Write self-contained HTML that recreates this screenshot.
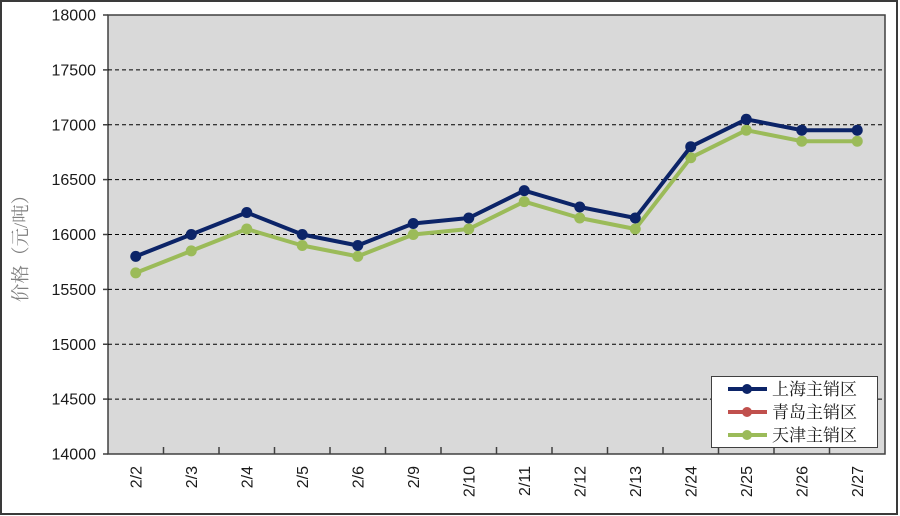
<!DOCTYPE html>
<html><head><meta charset="utf-8"><style>
html,body{margin:0;padding:0;background:#fff;}
svg{display:block;}
</style></head><body>
<svg width="900" height="516" viewBox="0 0 900 516" xmlns="http://www.w3.org/2000/svg">
<rect x="0" y="0" width="900" height="516" fill="#fff"/>
<rect x="1" y="1" width="896" height="513" fill="none" stroke="#3a3a3a" stroke-width="2"/>
<rect x="108" y="15" width="777" height="439" fill="#d9d9d9" stroke="#404040" stroke-width="1.5"/>
<g stroke="#000" stroke-width="1" stroke-dasharray="4,3">
<line x1="108" y1="69.9" x2="885" y2="69.9"/>
<line x1="108" y1="124.75" x2="885" y2="124.75"/>
<line x1="108" y1="179.6" x2="885" y2="179.6"/>
<line x1="108" y1="234.5" x2="885" y2="234.5"/>
<line x1="108" y1="289.4" x2="885" y2="289.4"/>
<line x1="108" y1="344.25" x2="885" y2="344.25"/>
<line x1="108" y1="399.1" x2="885" y2="399.1"/>
</g>
<g stroke="#404040" stroke-width="1.5">
<line x1="103" y1="15" x2="108" y2="15"/>
<line x1="103" y1="69.9" x2="108" y2="69.9"/>
<line x1="103" y1="124.75" x2="108" y2="124.75"/>
<line x1="103" y1="179.6" x2="108" y2="179.6"/>
<line x1="103" y1="234.5" x2="108" y2="234.5"/>
<line x1="103" y1="289.4" x2="108" y2="289.4"/>
<line x1="103" y1="344.25" x2="108" y2="344.25"/>
<line x1="103" y1="399.1" x2="108" y2="399.1"/>
<line x1="103" y1="454" x2="108" y2="454"/>
<line x1="163.5" y1="447" x2="163.5" y2="454"/>
<line x1="219" y1="447" x2="219" y2="454"/>
<line x1="274.5" y1="447" x2="274.5" y2="454"/>
<line x1="330" y1="447" x2="330" y2="454"/>
<line x1="385.5" y1="447" x2="385.5" y2="454"/>
<line x1="441" y1="447" x2="441" y2="454"/>
<line x1="496.5" y1="447" x2="496.5" y2="454"/>
<line x1="552" y1="447" x2="552" y2="454"/>
<line x1="607.5" y1="447" x2="607.5" y2="454"/>
<line x1="663" y1="447" x2="663" y2="454"/>
<line x1="718.5" y1="447" x2="718.5" y2="454"/>
<line x1="774" y1="447" x2="774" y2="454"/>
<line x1="829.5" y1="447" x2="829.5" y2="454"/>
</g>
<g font-family="'Liberation Sans', sans-serif" font-size="16" fill="#1a1a1a" text-anchor="end">
<text x="96" y="20.5">18000</text>
<text x="96" y="75.4">17500</text>
<text x="96" y="130.3">17000</text>
<text x="96" y="185.1">16500</text>
<text x="96" y="240">16000</text>
<text x="96" y="294.9">15500</text>
<text x="96" y="349.8">15000</text>
<text x="96" y="404.6">14500</text>
<text x="96" y="459.5">14000</text>
</g>
<text transform="translate(27,244) rotate(-90)" font-family="'Liberation Serif', 'Noto Serif CJK SC', serif" font-size="18.5" fill="#808080" text-anchor="middle">价格（元/吨）</text>
<g font-family="'Liberation Sans', sans-serif" font-size="16" fill="#1a1a1a" text-anchor="end">
<text transform="translate(141.5,466) rotate(-90)">2/2</text>
<text transform="translate(197,466) rotate(-90)">2/3</text>
<text transform="translate(252.5,466) rotate(-90)">2/4</text>
<text transform="translate(308,466) rotate(-90)">2/5</text>
<text transform="translate(363.5,466) rotate(-90)">2/6</text>
<text transform="translate(419,466) rotate(-90)">2/9</text>
<text transform="translate(474.5,466) rotate(-90)">2/10</text>
<text transform="translate(530,466) rotate(-90)">2/11</text>
<text transform="translate(585.5,466) rotate(-90)">2/12</text>
<text transform="translate(641,466) rotate(-90)">2/13</text>
<text transform="translate(696.5,466) rotate(-90)">2/24</text>
<text transform="translate(752,466) rotate(-90)">2/25</text>
<text transform="translate(807.5,466) rotate(-90)">2/26</text>
<text transform="translate(863,466) rotate(-90)">2/27</text>
</g>
<!-- Tianjin (green) -->
<polyline fill="none" stroke="#9bbb59" stroke-width="4" stroke-linejoin="round"
points="135.75,272.9 191.25,250.9 246.75,229 302.25,245.5 357.75,256.4 413.25,234.5 468.75,229 524.25,201.6 579.75,218 635.25,229 690.75,157.7 746.25,130.2 801.75,141.2 857.25,141.2"/>
<g fill="#9bbb59">
<circle cx="135.75" cy="272.9" r="5.5"/><circle cx="191.25" cy="250.9" r="5.5"/><circle cx="246.75" cy="229" r="5.5"/><circle cx="302.25" cy="245.5" r="5.5"/><circle cx="357.75" cy="256.4" r="5.5"/><circle cx="413.25" cy="234.5" r="5.5"/><circle cx="468.75" cy="229" r="5.5"/><circle cx="524.25" cy="201.6" r="5.5"/><circle cx="579.75" cy="218" r="5.5"/><circle cx="635.25" cy="229" r="5.5"/><circle cx="690.75" cy="157.7" r="5.5"/><circle cx="746.25" cy="130.2" r="5.5"/><circle cx="801.75" cy="141.2" r="5.5"/><circle cx="857.25" cy="141.2" r="5.5"/>
</g>
<!-- Shanghai (navy) -->
<polyline fill="none" stroke="#0c2468" stroke-width="4" stroke-linejoin="round"
points="135.75,256.4 191.25,234.5 246.75,212.5 302.25,234.5 357.75,245.5 413.25,223.5 468.75,218 524.25,190.6 579.75,207 635.25,218 690.75,146.7 746.25,119.3 801.75,130.2 857.25,130.2"/>
<g fill="#0c2468">
<circle cx="135.75" cy="256.4" r="5.5"/><circle cx="191.25" cy="234.5" r="5.5"/><circle cx="246.75" cy="212.5" r="5.5"/><circle cx="302.25" cy="234.5" r="5.5"/><circle cx="357.75" cy="245.5" r="5.5"/><circle cx="413.25" cy="223.5" r="5.5"/><circle cx="468.75" cy="218" r="5.5"/><circle cx="524.25" cy="190.6" r="5.5"/><circle cx="579.75" cy="207" r="5.5"/><circle cx="635.25" cy="218" r="5.5"/><circle cx="690.75" cy="146.7" r="5.5"/><circle cx="746.25" cy="119.3" r="5.5"/><circle cx="801.75" cy="130.2" r="5.5"/><circle cx="857.25" cy="130.2" r="5.5"/>
</g>
<!-- Legend -->
<rect x="711.5" y="376.5" width="166" height="71" fill="#fff" stroke="#404040" stroke-width="1"/>
<line x1="728" y1="389" x2="767" y2="389" stroke="#0c2468" stroke-width="4"/>
<circle cx="747" cy="389" r="5" fill="#0c2468"/>
<line x1="728" y1="412" x2="767" y2="412" stroke="#c0504d" stroke-width="4"/>
<circle cx="747" cy="412" r="5" fill="#c0504d"/>
<line x1="728" y1="435" x2="767" y2="435" stroke="#9bbb59" stroke-width="4"/>
<circle cx="747" cy="435" r="5" fill="#9bbb59"/>
<g font-family="'Liberation Serif', 'Noto Serif CJK SC', serif" font-size="17" fill="#1a1a1a">
<text x="772" y="395">上海主销区</text>
<text x="772" y="418">青岛主销区</text>
<text x="772" y="441">天津主销区</text>
</g>
</svg>
</body></html>
